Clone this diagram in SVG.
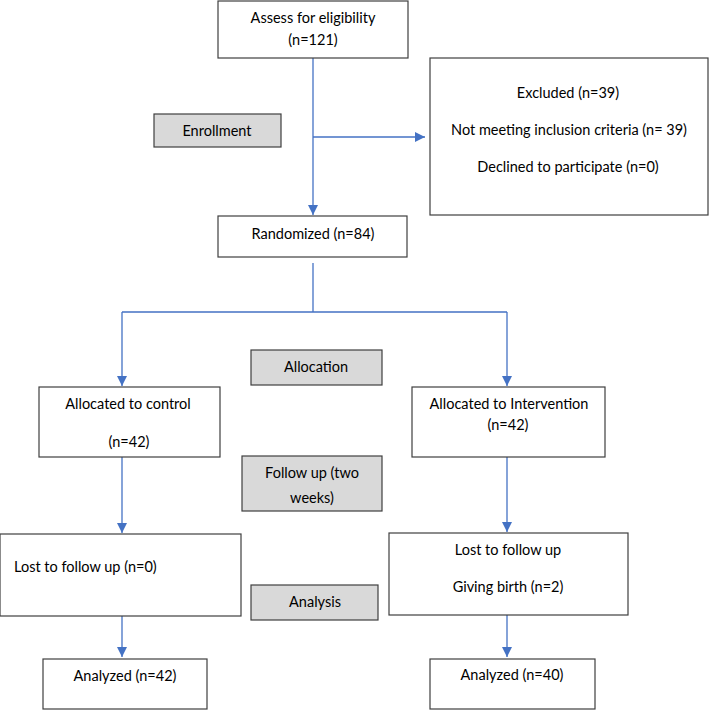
<svg xmlns="http://www.w3.org/2000/svg" width="711" height="710" viewBox="0 0 711 710">
<defs>
<marker id="ah" markerWidth="10" markerHeight="10" refX="10" refY="5" orient="auto" markerUnits="userSpaceOnUse">
<path d="M0,0 L10,5 L0,10 Z" fill="#4472C4"/>
</marker>
<style>
.box{fill:#ffffff;stroke:#3f3f3f;stroke-width:1.2}
.lab{fill:#d9d9d9;stroke:#3f3f3f;stroke-width:1.2}
.t{font-family:Lato,"Liberation Sans",sans-serif;font-size:14.5px;fill:#000000}
.c{text-anchor:middle}
.ln{fill:none;stroke:#4472C4;stroke-width:1.3}
.ar{marker-end:url(#ah)}
</style>
</defs>
<rect width="711" height="710" fill="#ffffff"/>
<g id="connectors">
<path class="ln ar" d="M313,58 V215"/>
<path class="ln ar" d="M313,137 H425"/>
<path class="ln" d="M313,263 V312"/>
<path class="ln ar" d="M122,312 H507 M122,312 V386"/>
<path class="ln ar" d="M507,312 V386"/>
<path class="ln ar" d="M122,457 V533"/>
<path class="ln ar" d="M507,457 V532"/>
<path class="ln ar" d="M122,616 V657"/>
<path class="ln ar" d="M507,615 V657"/>
</g>
<g id="assess"><rect class="box" x="218" y="1" width="190" height="57"/>
<text class="t c" x="313" y="23">Assess for eligibility</text>
<text class="t c" x="313" y="45">(n=121)</text></g>
<g id="enrollment"><rect class="lab" x="154" y="114" width="127" height="33"/>
<text class="t c" x="217" y="136">Enrollment</text></g>
<g id="excluded"><rect class="box" x="430" y="58" width="278" height="157"/>
<text class="t c" x="568" y="98">Excluded (n=39)</text>
<text class="t c" x="569" y="135">Not meeting inclusion criteria (n= 39)</text>
<text class="t c" x="568" y="172">Declined to participate (n=0)</text></g>
<g id="randomized"><rect class="box" x="218" y="216" width="189" height="41"/>
<text class="t c" x="313" y="239">Randomized (n=84)</text></g>
<g id="allocation"><rect class="lab" x="251" y="350" width="131" height="35"/>
<text class="t c" x="316" y="372">Allocation</text></g>
<g id="control"><rect class="box" x="39" y="387" width="181" height="70"/>
<text class="t c" x="128" y="409">Allocated to control</text>
<text class="t c" x="129" y="447">(n=42)</text></g>
<g id="intervention"><rect class="box" x="412" y="387" width="193" height="70"/>
<text class="t c" x="509" y="409">Allocated to Intervention</text>
<text class="t c" x="508" y="430">(n=42)</text></g>
<g id="followup"><rect class="lab" x="242" y="456" width="140" height="55"/>
<text class="t c" x="312" y="478">Follow up (two</text>
<text class="t c" x="312" y="503">weeks)</text></g>
<g id="lost-control"><rect class="box" x="0" y="534" width="241" height="82"/>
<text class="t" x="14" y="572">Lost to follow up (n=0)</text></g>
<g id="lost-intervention"><rect class="box" x="389" y="533" width="239" height="82"/>
<text class="t c" x="508" y="555">Lost to follow up</text>
<text class="t c" x="508" y="592">Giving birth (n=2)</text></g>
<g id="analysis"><rect class="lab" x="251" y="585" width="127" height="35"/>
<text class="t c" x="315" y="607">Analysis</text></g>
<g id="analyzed-control"><rect class="box" x="43" y="659" width="164" height="50"/>
<text class="t c" x="125" y="681">Analyzed (n=42)</text></g>
<g id="analyzed-intervention"><rect class="box" x="430" y="659" width="165" height="50"/>
<text class="t c" x="512" y="680">Analyzed (n=40)</text></g>
</svg>
